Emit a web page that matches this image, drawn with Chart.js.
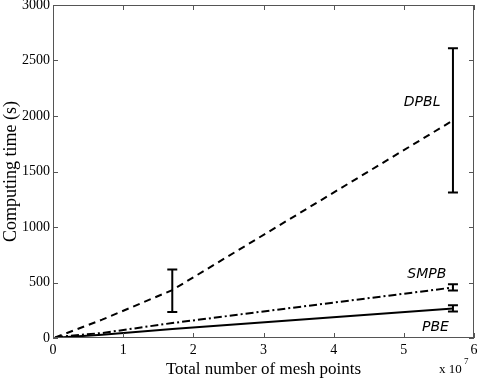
<!DOCTYPE html>
<html>
<head>
<meta charset="utf-8">
<script src="https://cdn.jsdelivr.net/npm/chart.js@4"></script>
<style>
  html, body { margin: 0; padding: 0; background: #fff; }
  #wrap { width: 478px; height: 380px; }
</style>
</head>
<body>
<div id="wrap"><canvas id="timeChart" width="478" height="380"></canvas></div>
<script>
// mesh points (x 1e7) and computing times (s)
const meshPoints = [0.03, 0.2, 0.7, 1.7, 5.7];
const dpblTime = [5, 45, 165, 432, 1960];
const smpbTime = [3, 18, 45, 135, 455];
const pbeTime = [2, 10, 30, 82, 265];

// error bars: [x, low, high]
const dpblErr = [[1.7, 234, 618], [5.7, 1310, 2610]];
const smpbErr = [[5.7, 428, 485]];
const pbeErr = [[5.7, 238, 295]];

const xTicks = [0, 1, 2, 3, 4, 5, 6];
const yTicks = [0, 500, 1000, 1500, 2000, 2500, 3000];

const seriesLabels = [
  { text: 'DPBL', x: 5.0, y: 2125 },
  { text: 'SMPB', x: 5.05, y: 576 },
  { text: 'PBE', x: 5.26, y: 99 },
];

const axisColor = '#555';
const serif = '"Liberation Serif", "DejaVu Serif", serif';

const toPoints = (ys) => ys.map((y, i) => ({ x: meshPoints[i], y: y }));

// box, inward ticks, error bars, annotation text
const decorPlugin = {
  id: 'decor',
  afterDatasetsDraw(chart) {
    const { ctx, chartArea: a, scales } = chart;
    const xs = scales.x;
    const ys = scales.y;
    ctx.save();
    ctx.strokeStyle = axisColor;
    ctx.lineWidth = 1;
    ctx.strokeRect(a.left + 0.5, a.top + 0.5, a.right - a.left - 1, a.bottom - a.top - 1);
    ctx.beginPath();
    xTicks.forEach((t) => {
      const px = Math.round(xs.getPixelForValue(t)) + 0.5;
      ctx.moveTo(px, a.bottom);
      ctx.lineTo(px, a.bottom - 5);
      ctx.moveTo(px, a.top);
      ctx.lineTo(px, a.top + 5);
    });
    yTicks.forEach((t) => {
      const py = Math.round(ys.getPixelForValue(t)) + 0.5;
      ctx.moveTo(a.left, py);
      ctx.lineTo(a.left + 5, py);
      ctx.moveTo(a.right, py);
      ctx.lineTo(a.right - 5, py);
    });
    ctx.stroke();

    // error bars
    ctx.strokeStyle = '#000';
    ctx.lineWidth = 2;
    const bars = dpblErr.concat(smpbErr, pbeErr);
    bars.forEach(([x, lo, hi]) => {
      const px = xs.getPixelForValue(x);
      const pLo = ys.getPixelForValue(lo);
      const pHi = ys.getPixelForValue(hi);
      ctx.beginPath();
      ctx.moveTo(px, pLo);
      ctx.lineTo(px, pHi);
      ctx.moveTo(px - 5, pLo);
      ctx.lineTo(px + 5, pLo);
      ctx.moveTo(px - 5, pHi);
      ctx.lineTo(px + 5, pHi);
      ctx.stroke();
    });

    // series names
    ctx.fillStyle = '#000';
    ctx.font = 'italic 14px "DejaVu Sans", sans-serif';
    ctx.textBaseline = 'middle';
    ctx.textAlign = 'left';
    seriesLabels.forEach((l) => {
      ctx.fillText(l.text, xs.getPixelForValue(l.x), ys.getPixelForValue(l.y));
    });

    // exponent
    ctx.font = '13px ' + serif;
    ctx.fillText('x 10', 439, 370);
    ctx.font = '9px ' + serif;
    ctx.fillText('7', 464, 362);
    ctx.restore();
  },
};

const ctx = document.getElementById('timeChart').getContext('2d');
new Chart(ctx, {
  type: 'line',
  data: {
    datasets: [
      {
        label: 'DPBL',
        data: toPoints(dpblTime),
        borderColor: '#000',
        borderWidth: 2,
        borderDash: [7, 5],
        pointRadius: 0,
        tension: 0,
      },
      {
        label: 'SMPB',
        data: toPoints(smpbTime),
        borderColor: '#000',
        borderWidth: 2,
        borderDash: [8, 3, 2, 3],
        pointRadius: 0,
        tension: 0,
      },
      {
        label: 'PBE',
        data: toPoints(pbeTime),
        borderColor: '#000',
        borderWidth: 2,
        pointRadius: 0,
        tension: 0,
      },
    ],
  },
  options: {
    responsive: false,
    animation: false,
    layout: { padding: { top: 5, right: 4, left: 0, bottom: 0 } },
    plugins: {
      legend: { display: false },
      tooltip: { enabled: false },
    },
    scales: {
      x: {
        type: 'linear',
        min: 0,
        max: 6,
        afterBuildTicks: (s) => { s.ticks = xTicks.map((v) => ({ value: v })); },
        afterFit: (s) => {
          s.height = 42;
          s.paddingLeft = 0;
          s.paddingRight = 0;
        },
        grid: { display: false, drawTicks: false },
        border: { display: false },
        ticks: {
          color: '#000',
          padding: 4,
          maxRotation: 0,
          callback: (v) => String(v),
          font: { family: serif, size: 14 },
        },
        title: {
          display: true,
          text: 'Total number of mesh points',
          color: '#000',
          padding: { top: 2, bottom: 0 },
          font: { family: serif, size: 17 },
        },
      },
      y: {
        min: 0,
        max: 3000,
        afterBuildTicks: (s) => { s.ticks = yTicks.map((v) => ({ value: v })); },
        afterFit: (s) => {
          s.width = 53;
          s.paddingTop = 0;
          s.paddingBottom = 0;
        },
        grid: { display: false, drawTicks: false },
        border: { display: false },
        ticks: {
          color: '#000',
          padding: 3,
          callback: (v) => String(v),
          font: { family: serif, size: 14 },
        },
        title: {
          display: true,
          text: 'Computing time (s)',
          color: '#000',
          padding: { top: 0, bottom: 0 },
          font: { family: serif, size: 18 },
        },
      },
    },
  },
  plugins: [decorPlugin],
});
</script>
</body>
</html>
